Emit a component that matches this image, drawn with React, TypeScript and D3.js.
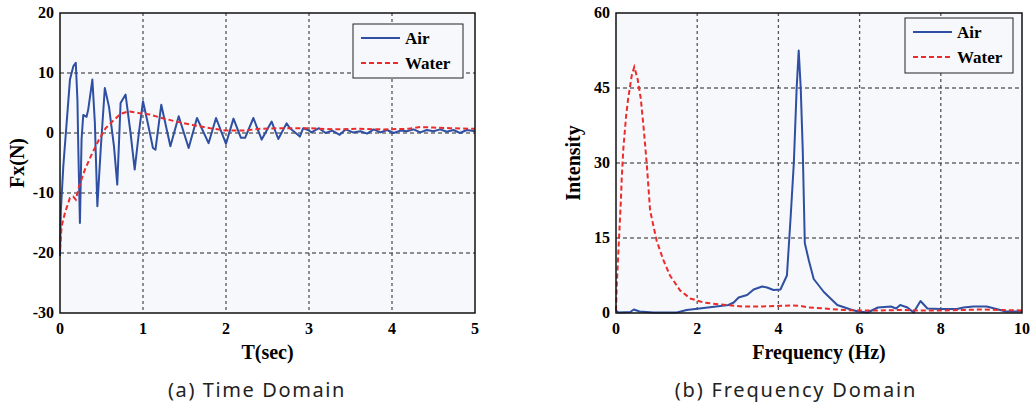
import React from "react"
import { scaleLinear, line } from "d3"

// time domain (sec, N)
const timeAirT = [0, 0.01, 0.04, 0.08, 0.12, 0.16, 0.19, 0.21, 0.22, 0.24, 0.26, 0.28, 0.32, 0.34, 0.39, 0.42, 0.45, 0.49, 0.54, 0.59, 0.65, 0.69, 0.73, 0.79, 0.85, 0.9, 0.95, 1.0, 1.06, 1.12, 1.15, 1.22, 1.33, 1.43, 1.55, 1.65, 1.79, 1.88, 2.0, 2.09, 2.18, 2.23, 2.33, 2.43, 2.55, 2.63, 2.73, 2.77, 2.84, 2.89, 2.93, 2.99, 3.03, 3.12, 3.2, 3.28, 3.37, 3.44, 3.53, 3.62, 3.7, 3.78, 3.86, 3.94, 4.02, 4.1, 4.18, 4.26, 4.34, 4.42, 4.5, 4.58, 4.66, 4.74, 4.82, 4.9, 5.0]
const timeAirV = [-20.5, -13, -5.5, 1.7, 8.9, 11.1, 11.7, 5.5, -2.2, -15, -1, 3, 2.7, 3.9, 8.9, 1.7, -12.2, -2.8, 7.5, 4.4, -2.2, -8.6, 5, 6.4, 0, -6.1, 0, 5.3, 1.5, -2.5, -2.8, 4.7, -2.2, 2.8, -2.5, 2.5, -1.7, 2.5, -1.8, 2.4, -0.8, -0.8, 2.5, -1.1, 1.9, -1, 1.6, 0.8, 0, -0.6, 0.8, 0.5, 0.1, 0.8, 0, 0.4, -0.3, 0.6, 0.1, 0.3, -0.1, 0.6, 0.1, 0.5, 0, 0.4, 0.3, 0.6, 0.1, 0.5, 0.3, 0.6, 0.2, 0.5, 0, 0.5, 0.3]
const timeWaterT = [0, 0.02, 0.06, 0.12, 0.16, 0.19, 0.23, 0.3, 0.39, 0.47, 0.55, 0.63, 0.73, 0.83, 0.96, 1.08, 1.2, 1.4, 1.61, 1.81, 2.0, 2.21, 2.41, 2.61, 2.81, 3.0, 3.3, 3.6, 3.9, 4.2, 4.34, 4.5, 4.7, 5.0]
const timeWaterV = [-19.4, -15.5, -13.3, -10.8, -10.6, -11.1, -8.9, -6.1, -3.3, -1.1, 0.8, 1.9, 3.2, 3.6, 3.3, 3.1, 2.6, 1.9, 1.3, 0.8, 0.4, 0.4, 0.7, 0.8, 0.8, 0.8, 0.6, 0.7, 0.6, 0.7, 1.0, 0.9, 0.8, 0.7]

// frequency domain (Hz, intensity)
const freqAirF = [0, 0.06, 0.35, 0.44, 0.58, 0.92, 1.5, 1.74, 2.16, 2.57, 2.77, 2.9, 3.02, 3.23, 3.39, 3.6, 3.72, 3.88, 4.05, 4.21, 4.3, 4.38, 4.45, 4.5, 4.55, 4.6, 4.65, 4.75, 4.87, 5.12, 5.45, 5.78, 5.96, 6.2, 6.45, 6.77, 6.9, 7.0, 7.18, 7.33, 7.5, 7.67, 7.99, 8.4, 8.56, 8.8, 9.13, 9.37, 9.6, 10]
const freqAirV = [0.5, 0.1, 0.2, 0.7, 0.3, 0.1, 0.1, 0.6, 1.0, 1.4, 1.6, 2.1, 3.1, 3.6, 4.7, 5.3, 5.1, 4.6, 4.7, 7.5, 19, 30, 45, 52.5, 45, 32.5, 14, 10.5, 6.8, 4.2, 1.6, 0.7, 0.3, 0.1, 1.1, 1.3, 0.9, 1.6, 1.1, 0.1, 2.4, 0.9, 0.8, 0.8, 1.1, 1.3, 1.3, 0.8, 0.3, 0.3]
const freqWaterF = [0, 0.02, 0.06, 0.12, 0.14, 0.18, 0.25, 0.3, 0.39, 0.45, 0.53, 0.61, 0.69, 0.76, 0.84, 1.0, 1.17, 1.33, 1.58, 1.83, 2.16, 2.57, 3.14, 3.56, 3.97, 4.3, 4.55, 4.74, 5.12, 5.6, 5.98, 6.5, 7.0, 7.5, 8.0, 8.5, 9.0, 9.5, 10]
const freqWaterV = [0.5, 5.8, 12.5, 22.5, 26.7, 32.8, 39.5, 42.9, 47.6, 49.2, 46.9, 42.9, 36.2, 29.5, 20.5, 14.5, 10.5, 7.5, 4.5, 2.9, 2.1, 1.7, 1.3, 1.3, 1.4, 1.5, 1.4, 1.1, 0.9, 0.6, 0.5, 0.5, 0.6, 0.5, 0.5, 0.6, 0.7, 0.6, 0.5]

const timeXTicks = [0, 1, 2, 3, 4, 5]
const timeYTicks = [-30, -20, -10, 0, 10, 20]
const freqXTicks = [0, 2, 4, 6, 8, 10]
const freqYTicks = [0, 15, 30, 45, 60]

const serif = "'Liberation Serif', 'DejaVu Serif', serif"
const blue = "#2f4fa2"
const red = "#ee2b2b"

function Panel({ left, right, top, bottom, xDomain, yDomain, xTicks, yTicks, air, water, xLabel, yLabel, yLabelX, legend }) {
  const x = scaleLinear().domain(xDomain).range([left, right])
  const y = scaleLinear().domain(yDomain).range([bottom, top])
  const path = line<[number, number]>()
    .x(d => x(d[0]))
    .y(d => y(d[1]))
  return (
    <g>
      <rect x={left} y={top} width={right - left} height={bottom - top} fill="#f6f8fb" />
      {xTicks.slice(1, -1).map(t => (
        <line key={"vx" + t} x1={x(t)} x2={x(t)} y1={top} y2={bottom}
          stroke="#555" strokeWidth={1.3} strokeDasharray="3,3" />
      ))}
      {yTicks.slice(1, -1).map(t => (
        <line key={"hy" + t} x1={left} x2={right} y1={y(t)} y2={y(t)}
          stroke="#222" strokeWidth={1} strokeDasharray="4,3" />
      ))}
      <path d={path(air) || ""} fill="none" stroke={blue} strokeWidth={2} strokeLinejoin="round" />
      <path d={path(water) || ""} fill="none" stroke={red} strokeWidth={2} strokeDasharray="5,3" />
      <rect x={left} y={top} width={right - left} height={bottom - top} fill="none" stroke="#111" strokeWidth={1.5} />
      {xTicks.map(t => (
        <text key={"xt" + t} x={x(t)} y={bottom + 21} textAnchor="middle"
          fontFamily={serif} fontWeight="bold" fontSize={16}>{t}</text>
      ))}
      {yTicks.map(t => (
        <text key={"yt" + t} x={left - 6} y={y(t) + 5} textAnchor="end"
          fontFamily={serif} fontWeight="bold" fontSize={16}>{t}</text>
      ))}
      <text x={(left + right) / 2} y={bottom + 46} textAnchor="middle"
        fontFamily={serif} fontWeight="bold" fontSize={20}>{xLabel}</text>
      <text transform={`translate(${yLabelX},${(top + bottom) / 2}) rotate(-90)`} textAnchor="middle"
        fontFamily={serif} fontWeight="bold" fontSize={20}>{yLabel}</text>
      <g>
        <rect x={legend.x} y={legend.y} width={legend.w} height={legend.h} fill="#f6f8fb" stroke="#222" strokeWidth={1} />
        <line x1={legend.x + 8} x2={legend.x + 47} y1={legend.y + 14} y2={legend.y + 14} stroke={blue} strokeWidth={2} />
        <line x1={legend.x + 8} x2={legend.x + 47} y1={legend.y + 39} y2={legend.y + 39} stroke={red} strokeWidth={2} strokeDasharray="5,3" />
        <text x={legend.x + 52} y={legend.y + 20} fontFamily={serif} fontWeight="bold" fontSize={17}>Air</text>
        <text x={legend.x + 52} y={legend.y + 45} fontFamily={serif} fontWeight="bold" fontSize={17}>Water</text>
      </g>
    </g>
  )
}

export default function App() {
  const timeAir = timeAirT.map((t, i) => [t, timeAirV[i]] as [number, number])
  const timeWater = timeWaterT.map((t, i) => [t, timeWaterV[i]] as [number, number])
  const freqAir = freqAirF.map((f, i) => [f, freqAirV[i]] as [number, number])
  const freqWater = freqWaterF.map((f, i) => [f, freqWaterV[i]] as [number, number])
  return (
    <svg width={1035} height={407} style={{ position: "absolute", left: 0, top: 0, background: "#fff" }}>
      <Panel left={60} right={475} top={13} bottom={313} xDomain={[0, 5]} yDomain={[-30, 20]}
        xTicks={timeXTicks} yTicks={timeYTicks} air={timeAir} water={timeWater}
        xLabel="T(sec)" yLabel="Fx(N)" yLabelX={24}
        legend={{ x: 353, y: 24, w: 110, h: 54 }} />
      <Panel left={616} right={1022} top={13} bottom={313} xDomain={[0, 10]} yDomain={[0, 60]}
        xTicks={freqXTicks} yTicks={freqYTicks} air={freqAir} water={freqWater}
        xLabel="Frequency (Hz)" yLabel="Intensity" yLabelX={580}
        legend={{ x: 905, y: 18, w: 108, h: 55 }} />
      <text x={257} y={397} textAnchor="middle" fontFamily="'Noto Sans', sans-serif" fontSize={20} letterSpacing={1.6} fill="#222">(a) Time Domain</text>
      <text x={796} y={397} textAnchor="middle" fontFamily="'Noto Sans', sans-serif" fontSize={20} letterSpacing={1.8} fill="#222">(b) Frequency Domain</text>
    </svg>
  )
}
